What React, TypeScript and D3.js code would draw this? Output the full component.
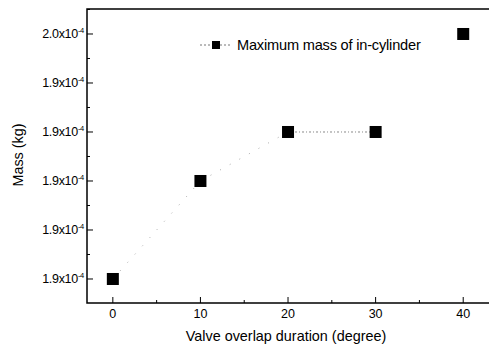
import { useEffect, useRef } from "react";
import * as d3 from "d3";

const overlap = [0, 10, 20, 30, 40];
const mass = [1.9, 1.92, 1.93, 1.93, 1.95]; // x10^-4 kg
const xTicks = [0, 10, 20, 30, 40];
const yTicks = [1.9, 1.91, 1.92, 1.93, 1.94, 1.95];
const yTickLabels = ["1.9", "1.9", "1.9", "1.9", "1.9", "2.0"];
const seriesName = "Maximum mass of in-cylinder";

export default function App() {
  const svgRef = useRef<SVGSVGElement>(null);

  useEffect(() => {
    if (!svgRef.current) return;
    const width = 489;
    const height = 347;
    const margin = { top: 9, right: -4, bottom: 44, left: 87 };
    const font = "Liberation Sans, Arial, sans-serif";

    const svg = d3.select(svgRef.current);
    svg.selectAll("*").remove();

    const x = d3.scaleLinear().domain([-2.95, 43.4]).range([margin.left, width - margin.right]);
    const y = d3.scaleLinear().domain([1.8951, 1.9551]).range([height - margin.bottom, margin.top]);
    const x0 = margin.left, x1 = width - margin.right;
    const y0 = height - margin.bottom, y1 = margin.top;

    // frame (right side falls outside the picture)
    svg.append("path")
      .attr("d", `M${x1},${y1}H${x0}V${y0}H${x1}`)
      .attr("fill", "none")
      .attr("stroke", "#000")
      .attr("stroke-width", 1.5);

    // x axis ticks (inward)
    const xMinor = d3.range(-0, 45, 5).filter(v => !xTicks.includes(v));
    svg.append("g")
      .selectAll("line")
      .data(xTicks)
      .join("line")
      .attr("x1", d => x(d)).attr("x2", d => x(d))
      .attr("y1", y0).attr("y2", y0 - 6)
      .attr("stroke", "#000");
    svg.append("g")
      .selectAll("line")
      .data(xMinor)
      .join("line")
      .attr("x1", d => x(d)).attr("x2", d => x(d))
      .attr("y1", y0).attr("y2", y0 - 3)
      .attr("stroke", "#000");
    svg.append("g")
      .selectAll("text")
      .data(xTicks)
      .join("text")
      .attr("x", d => x(d))
      .attr("y", 318)
      .attr("text-anchor", "middle")
      .attr("font-family", font)
      .attr("font-size", 12.5)
      .text(d => d);

    // y axis ticks (inward)
    const step = yTicks[1] - yTicks[0];
    const yMinor = yTicks.map(v => v + step / 2).concat([yTicks[0] - step / 2]);
    svg.append("g")
      .selectAll("line")
      .data(yTicks)
      .join("line")
      .attr("x1", x0).attr("x2", x0 + 6)
      .attr("y1", d => y(d)).attr("y2", d => y(d))
      .attr("stroke", "#000");
    svg.append("g")
      .selectAll("line")
      .data(yMinor.filter(v => y(v) > y1 && y(v) < y0))
      .join("line")
      .attr("x1", x0).attr("x2", x0 + 3)
      .attr("y1", d => y(d)).attr("y2", d => y(d))
      .attr("stroke", "#000");
    const yl = svg.append("g")
      .selectAll("text")
      .data(yTicks)
      .join("text")
      .attr("x", 84)
      .attr("y", d => y(d) + 4)
      .attr("text-anchor", "end")
      .attr("font-family", font)
      .attr("font-size", 12.5)
      .attr("letter-spacing", -0.3);
    yl.append("tspan").text((d, i) => `${yTickLabels[i]}x10`);
    yl.append("tspan")
      .attr("font-size", 7.5)
      .attr("dy", -5)
      .text("-4");

    // axis titles
    svg.append("text")
      .attr("x", 286)
      .attr("y", 341)
      .attr("text-anchor", "middle")
      .attr("font-family", font)
      .attr("font-size", 14.4)
      .text("Valve overlap duration (degree)");
    svg.append("text")
      .attr("transform", `translate(23,155) rotate(-90)`)
      .attr("text-anchor", "middle")
      .attr("font-family", font)
      .attr("font-size", 14.4)
      .text("Mass (kg)");

    // line
    const pts = overlap.map((v, i) => [v, mass[i]] as [number, number]);
    const line = d3.line<[number, number]>().x(d => x(d[0])).y(d => y(d[1]));
    svg.append("path")
      .attr("d", line(pts.slice(0, 3)))
      .attr("fill", "none")
      .attr("stroke", "#aaa")
      .attr("stroke-width", 1)
      .attr("stroke-dasharray", "1,10");
    svg.append("path")
      .attr("d", line(pts.slice(2, 4)))
      .attr("fill", "none")
      .attr("stroke", "#888")
      .attr("stroke-width", 1)
      .attr("stroke-dasharray", "2,2,1,2");

    // markers
    const s = 12;
    svg.append("g")
      .selectAll("rect")
      .data(pts)
      .join("rect")
      .attr("x", d => x(d[0]) - s / 2)
      .attr("y", d => y(d[1]) - s / 2)
      .attr("width", s)
      .attr("height", s)
      .attr("fill", "#000");

    // legend
    const lg = svg.append("g");
    lg.append("line")
      .attr("x1", 200).attr("x2", 231)
      .attr("y1", 45).attr("y2", 45)
      .attr("stroke", "#777")
      .attr("stroke-dasharray", "2,2");
    lg.append("rect")
      .attr("x", 212).attr("y", 41)
      .attr("width", 8).attr("height", 8)
      .attr("fill", "#000");
    lg.append("text")
      .attr("x", 237)
      .attr("y", 50)
      .attr("font-family", font)
      .attr("font-size", 14.6)
      .attr("letter-spacing", -0.2)
      .text(seriesName);
  }, []);

  return (
    <svg
      ref={svgRef}
      width={489}
      height={347}
      style={{ position: "absolute", left: 0, top: 0, background: "#fff" }}
    />
  );
}
